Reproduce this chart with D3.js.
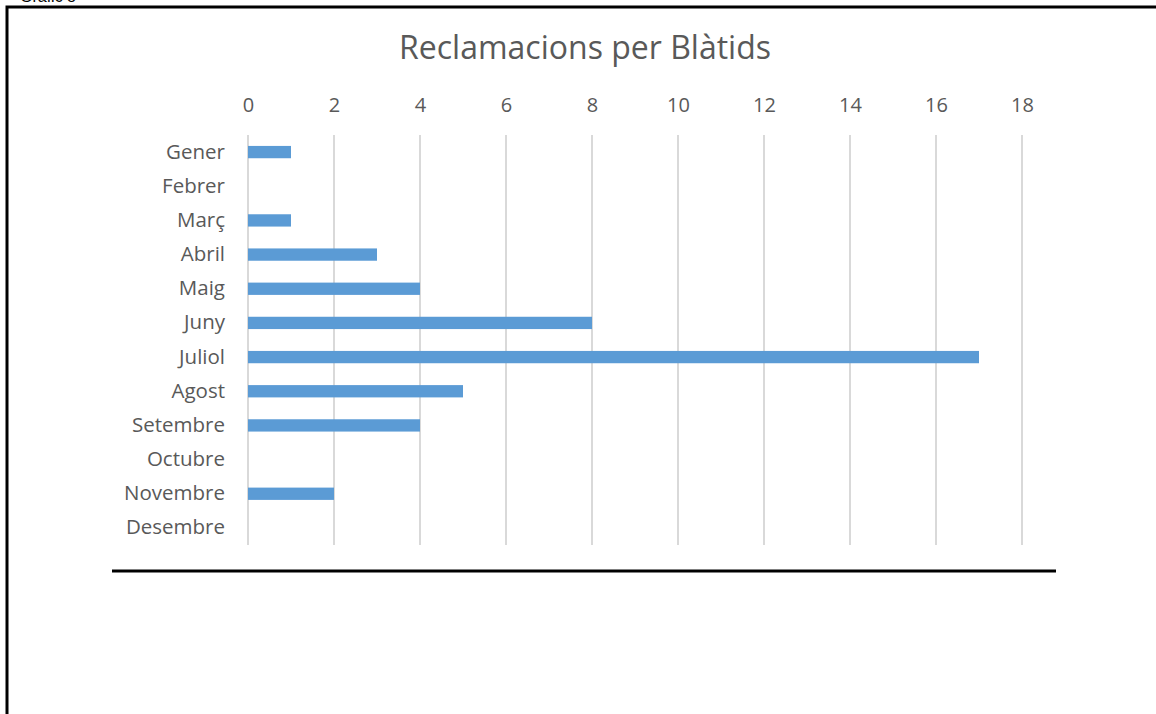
<!DOCTYPE html>
<html>
<head>
<meta charset="utf-8">
<script src="https://cdn.jsdelivr.net/npm/d3@7"></script>
<style>
  body { margin: 0; background: #fff; }
  svg { display: block; }
</style>
</head>
<body>
<svg width="1156" height="714"></svg>
<script>
// dades
const months = ["Gener", "Febrer", "Març", "Abril", "Maig", "Juny", "Juliol",
                "Agost", "Setembre", "Octubre", "Novembre", "Desembre"];
const claims = [1, 0, 1, 3, 4, 8, 17, 5, 4, 0, 2, 0];
const xTicks = [0, 2, 4, 6, 8, 10, 12, 14, 16, 18];
const chartTitle = "Reclamacions per Blàtids";
const captionText = "Gràfic 8";

const svg = d3.select("svg");
const font = "'Open Sans', sans-serif";
const margin = { top: 135, left: 248, right: 1156 - 1022, bottom: 714 - 545 };
const width = 1156 - margin.left - margin.right;
const height = 714 - margin.top - margin.bottom;

// caption cut off at top of page
svg.append("text")
  .attr("x", 20).attr("y", 2)
  .attr("font-family", "Arial, 'Liberation Sans', sans-serif")
  .attr("font-size", 16)
  .attr("fill", "#000")
  .text(captionText);

// frame
svg.append("path")
  .attr("d", "M7,714 L7,7 L1156,7")
  .attr("fill", "none")
  .attr("stroke", "#000")
  .attr("stroke-width", 3);

svg.append("line")
  .attr("x1", 112).attr("x2", 1056)
  .attr("y1", 571).attr("y2", 571)
  .attr("stroke", "#000")
  .attr("stroke-width", 3);

const g = svg.append("g")
  .attr("transform", `translate(${margin.left},${margin.top})`);

const x = d3.scaleLinear().domain([0, 18]).range([0, width]);
const y = d3.scaleBand().domain(months).range([0, height]).paddingInner(0.64).paddingOuter(0.32);

// gridlines
g.selectAll(".grid")
  .data(xTicks)
  .enter().append("line")
  .attr("x1", d => x(d)).attr("x2", d => x(d))
  .attr("y1", 0).attr("y2", height)
  .attr("stroke", "#d9d9d9")
  .attr("stroke-width", 2);

// top axis labels
const xAxis = g.append("g")
  .call(d3.axisTop(x).tickValues(xTicks).tickSize(0).tickPadding(23));
xAxis.select(".domain").remove();
xAxis.selectAll("text")
  .attr("font-family", font)
  .attr("font-size", 20)
  .attr("fill", "#595959");

// left axis labels
const yAxis = g.append("g")
  .call(d3.axisLeft(y).tickSize(0).tickPadding(23));
yAxis.select(".domain").remove();
yAxis.selectAll("text")
  .attr("font-family", font)
  .attr("font-size", 20.5)
  .attr("fill", "#595959");

// bars
g.selectAll(".bar")
  .data(months.map((m, i) => ({ month: m, value: claims[i] })))
  .enter().append("rect")
  .attr("x", x(0))
  .attr("y", d => y(d.month))
  .attr("width", d => x(d.value) - x(0))
  .attr("height", y.bandwidth())
  .attr("fill", "#5b9bd5");

// title
svg.append("text")
  .attr("x", 585).attr("y", 59)
  .attr("text-anchor", "middle")
  .attr("font-family", font)
  .attr("font-size", 32)
  .attr("fill", "#595959")
  .text(chartTitle);
</script>
</body>
</html>
